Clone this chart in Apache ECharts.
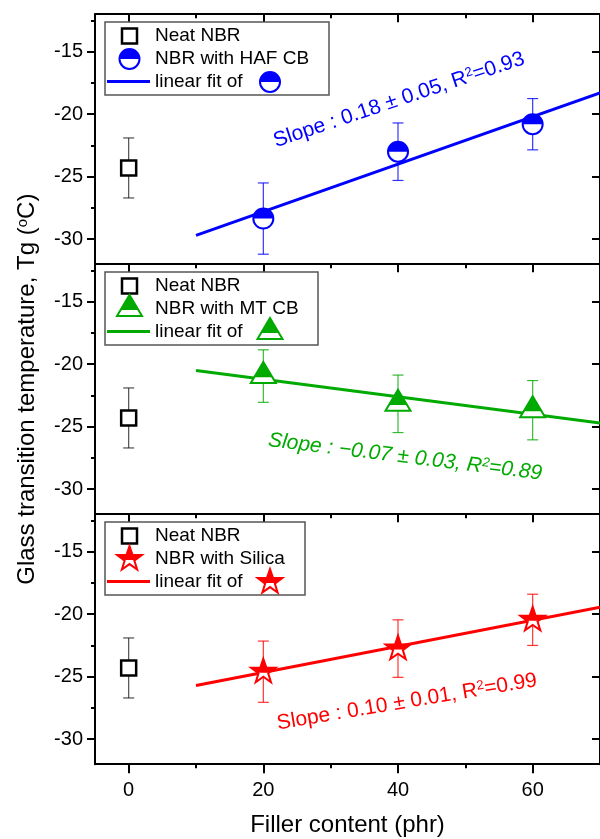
<!DOCTYPE html>
<html>
<head>
<meta charset="utf-8">
<style>
  html, body { margin: 0; padding: 0; background: #fff; }
  #container { width: 600px; height: 839px; }
</style>
<script src="https://cdn.jsdelivr.net/npm/echarts@6/dist/echarts.min.js"></script>
</head>
<body>
<div id="container"></div>
<script>
// ---- data ----
var fillerX = [20, 40, 60];
var neatX = [0];
var neatY = [-24.3];
var neatErr = [2.4];

var hafY = [-28.35, -23.0, -20.8];
var hafErr = [2.85, 2.3, 2.05];
var mtY = [-20.95, -23.17, -23.68];
var mtErr = [2.1, 2.3, 2.37];
var silicaY = [-24.6, -22.75, -20.45];
var silicaErr = [2.45, 2.3, 2.05];

var fitX = [10, 70];
var hafFit = [-29.7, -18.3];
var mtFit = [-20.5, -24.7];
var silicaFit = [-25.7, -19.45];

var xMajor = [0, 20, 40, 60];
var xMinor = [10, 30, 50];
var yMajor = [-30, -25, -20, -15];
var yMinor = [-27.5, -22.5, -17.5, -12.5];

var FONT = '"Liberation Sans", Arial, sans-serif';

var dom = document.getElementById("container");
var myChart = echarts.init(dom, null, { renderer: "canvas" });

// ---- marker shapes (half filled) ----
function starPts(cx, cy, R, r) {
  var pts = [];
  for (var k = 0; k < 10; k++) {
    var a = -Math.PI / 2 + k * Math.PI / 5;
    var rad = k % 2 === 0 ? R : r;
    pts.push([cx + rad * Math.cos(a), cy + rad * Math.sin(a)]);
  }
  return pts;
}
function clipTop(pts, yc) {
  var out = [];
  for (var i = 0; i < pts.length; i++) {
    var a = pts[i], b = pts[(i + 1) % pts.length];
    var ina = a[1] <= yc, inb = b[1] <= yc;
    if (ina) out.push(a);
    if (ina !== inb) {
      var t = (yc - a[1]) / (b[1] - a[1]);
      out.push([a[0] + t * (b[0] - a[0]), yc]);
    }
  }
  return out;
}
function markerShapes(kind, cx, cy, color) {
  if (kind === "square") {
    return [{ type: "rect", shape: { x: cx - 7.5, y: cy - 7.5, width: 15, height: 15 },
      style: { fill: "#fff", stroke: "#000", lineWidth: 2.5 } }];
  }
  if (kind === "circle") {
    return [
      { type: "circle", shape: { cx: cx, cy: cy, r: 10 }, style: { fill: "#fff", stroke: color, lineWidth: 2 } },
      { type: "sector", shape: { cx: cx, cy: cy, r: 10, r0: 0, startAngle: Math.PI, endAngle: 2 * Math.PI },
        style: { fill: color } }
    ];
  }
  if (kind === "triangle") {
    var k = 0.72;
    return [
      { type: "polygon", shape: { points: [[cx, cy - 14], [cx + 12.5, cy + 7], [cx - 12.5, cy + 7]] },
        style: { fill: "#fff", stroke: color, lineWidth: 2, lineJoin: "miter" } },
      { type: "polygon", shape: { points: [[cx, cy - 14], [cx + 12.5 * k, cy - 14 + 21 * k], [cx - 12.5 * k, cy - 14 + 21 * k]] },
        style: { fill: color } }
    ];
  }
  var pts = starPts(cx, cy, 13, 5.1);
  return [
    { type: "polygon", shape: { points: pts }, style: { fill: "#fff", stroke: color, lineWidth: 2, lineJoin: "miter" } },
    { type: "polygon", shape: { points: clipTop(pts, cy + 1) }, style: { fill: color } }
  ];
}

function errRender(color) {
  return function (params, api) {
    var x = api.value(0), y = api.value(1), e = api.value(2);
    var t = api.coord([x, y + e]), b = api.coord([x, y - e]);
    var st = { stroke: color, lineWidth: 1.2, opacity: 0.8 };
    return { type: "group", children: [
      { type: "line", shape: { x1: t[0], y1: t[1], x2: b[0], y2: b[1] }, style: st },
      { type: "line", shape: { x1: t[0] - 5.5, y1: t[1], x2: t[0] + 5.5, y2: t[1] }, style: st },
      { type: "line", shape: { x1: b[0] - 5.5, y1: b[1], x2: b[0] + 5.5, y2: b[1] }, style: st }
    ] };
  };
}
function markRender(kind, color) {
  return function (params, api) {
    var p = api.coord([api.value(0), api.value(1)]);
    return { type: "group", children: markerShapes(kind, p[0], p[1], color) };
  };
}

var panels = [
  { color: "#0000ff", kind: "circle", name: "NBR with HAF CB", y: hafY, err: hafErr, fit: hafFit,
    slope: "Slope : 0.18 \u00b1 0.05, R{sup|2}=0.93", pos: [399, 100], rot: 18.5, italic: false, boxW: 224 },
  { color: "#00aa00", kind: "triangle", name: "NBR with MT CB", y: mtY, err: mtErr, fit: mtFit,
    slope: "Slope : \u22120.07 \u00b1 0.03, R{sup|2}=0.89", pos: [405, 457], rot: -7, italic: true, boxW: 213 },
  { color: "#ff0000", kind: "star", name: "NBR with Silica", y: silicaY, err: silicaErr, fit: silicaFit,
    slope: "Slope : 0.10 \u00b1 0.01, R{sup|2}=0.99", pos: [407, 702], rot: 9.5, italic: false, boxW: 200 }
];
var tops = [14.2, 264.2, 514.2];

var grids = [], xAxes = [], yAxes = [], series = [], graphics = [];
var blackLine = { show: true, onZero: false, lineStyle: { color: "#000", width: 2 } };
var noLine = { show: false, onZero: false };
var tickStyle = { color: "#000", width: 2 };

panels.forEach(function (p, i) {
  var last = i === 2;
  grids.push({ left: 95, right: -5, top: tops[i], height: 250 });
  var xb = { type: "value", gridIndex: i, min: -5, max: 70, splitLine: { show: false } };
  // bottom axis
  xAxes.push(Object.assign({}, xb, {
    position: "bottom", axisLine: blackLine,
    axisTick: { show: last, inside: false, length: 9, customValues: xMajor, lineStyle: tickStyle },
    axisLabel: { show: last, customValues: xMajor, fontSize: 20, fontFamily: FONT, color: "#000", margin: 16 },
    name: last ? "Filler content (phr)" : "", nameLocation: "middle", nameGap: 49,
    nameTextStyle: { fontSize: 24, fontFamily: FONT, color: "#000" }
  }));
  xAxes.push(Object.assign({}, xb, {
    position: "bottom", axisLine: noLine,
    axisTick: { show: last, inside: false, length: 4, customValues: xMinor, lineStyle: tickStyle },
    axisLabel: { show: false }
  }));
  // top axis
  xAxes.push(Object.assign({}, xb, {
    position: "top", axisLine: blackLine,
    axisTick: { show: true, inside: true, length: 8, customValues: xMajor, lineStyle: tickStyle },
    axisLabel: { show: false }
  }));
  xAxes.push(Object.assign({}, xb, {
    position: "top", axisLine: noLine,
    axisTick: { show: true, inside: true, length: 4, customValues: xMinor, lineStyle: tickStyle },
    axisLabel: { show: false }
  }));

  var yb = { type: "value", gridIndex: i, min: -32, max: -12, splitLine: { show: false } };
  yAxes.push(Object.assign({}, yb, {
    position: "left", axisLine: blackLine,
    axisTick: { show: true, inside: false, length: 8, customValues: yMajor, lineStyle: tickStyle },
    axisLabel: { customValues: yMajor, fontSize: 20, fontFamily: FONT, color: "#000", margin: 12 },
    name: i === 1 ? "Glass transition temperature, Tg ({sup|o}C)" : "",
    nameLocation: "middle", nameGap: 56,
    nameTextStyle: { fontSize: 24, fontFamily: FONT, color: "#000",
      rich: { sup: { fontSize: 15, fontFamily: FONT, color: "#000", verticalAlign: "top" } } }
  }));
  yAxes.push(Object.assign({}, yb, {
    position: "left", axisLine: noLine,
    axisTick: { show: true, inside: false, length: 4, customValues: yMinor, lineStyle: tickStyle },
    axisLabel: { show: false }
  }));
  yAxes.push(Object.assign({}, yb, {
    position: "right", axisLine: blackLine,
    axisTick: { show: true, inside: true, length: 8, customValues: yMajor, lineStyle: tickStyle },
    axisLabel: { show: false }
  }));

  var xi = i * 4, yi = i * 3;
  var fitData = fitX.map(function (x, k) { return [x, p.fit[k]]; });
  var fillData = fillerX.map(function (x, k) { return [x, p.y[k], p.err[k]]; });
  var neatData = neatX.map(function (x, k) { return [x, neatY[k], neatErr[k]]; });

  series.push({ type: "line", xAxisIndex: xi, yAxisIndex: yi, data: fitData, showSymbol: false,
    lineStyle: { color: p.color, width: 3 }, z: 2, silent: true });
  series.push({ type: "custom", xAxisIndex: xi, yAxisIndex: yi, data: neatData,
    renderItem: errRender("#222"), z: 3 });
  series.push({ type: "custom", xAxisIndex: xi, yAxisIndex: yi, data: fillData,
    renderItem: errRender(p.color), z: 3 });
  series.push({ type: "custom", xAxisIndex: xi, yAxisIndex: yi, data: neatData,
    renderItem: markRender("square", "#000"), z: 4 });
  series.push({ type: "custom", xAxisIndex: xi, yAxisIndex: yi, data: fillData,
    renderItem: markRender(p.kind, p.color), z: 4 });

  // legend box
  var by = tops[i] + 7.8;
  graphics.push({ type: "rect", shape: { x: 105, y: by, width: p.boxW, height: 73 },
    style: { fill: "#fff", stroke: "#555", lineWidth: 1.5 }, z: 10 });
  markerShapes("square", 129.5, by + 14, "#000").forEach(function (s) { s.z = 11; graphics.push(s); });
  markerShapes(p.kind, 129.5, by + 37, p.color).forEach(function (s) { s.z = 11; graphics.push(s); });
  markerShapes(p.kind, 270, by + 60, p.color).forEach(function (s) { s.z = 11; graphics.push(s); });
  graphics.push({ type: "line", shape: { x1: 107, y1: by + 59.5, x2: 150, y2: by + 59.5 },
    style: { stroke: p.color, lineWidth: 3 }, z: 11 });
  [["Neat NBR", 14], [p.name, 37], ["linear fit of", 59.5]].forEach(function (t) {
    graphics.push({ type: "text", x: 155, y: by + t[1], z: 11,
      style: { text: t[0], fontSize: 19, fontFamily: FONT, fill: "#000", align: "left", verticalAlign: "middle" } });
  });

  // slope annotation
  graphics.push({ type: "text", x: p.pos[0], y: p.pos[1], rotation: p.rot * Math.PI / 180, z: 12,
    style: { text: p.slope, fontSize: 21, fontFamily: FONT, fontStyle: p.italic ? "italic" : "normal",
      fill: p.color, align: "center", verticalAlign: "middle",
      rich: { sup: { fontSize: 13, fontFamily: FONT, fill: p.color, verticalAlign: "top",
        fontStyle: p.italic ? "italic" : "normal" } } } });
});

var option = {
  animation: false,
  backgroundColor: "#fff",
  grid: grids,
  xAxis: xAxes,
  yAxis: yAxes,
  series: series,
  graphic: graphics
};

myChart.setOption(option);
window.addEventListener("resize", myChart.resize);
</script>
</body>
</html>
